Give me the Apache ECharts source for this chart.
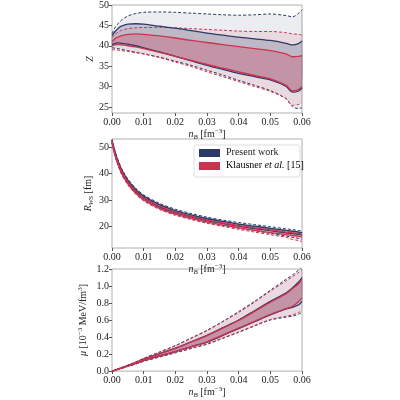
<!DOCTYPE html>
<html><head><meta charset="utf-8">
<script src="https://cdn.jsdelivr.net/npm/echarts@6/dist/echarts.min.js"></script>
<style>html,body{margin:0;padding:0;background:#fff}#c{width:400px;height:400px}</style>
</head><body><div id="c"></div>
<script>
const nB = [0,0.001,0.002,0.003,0.005,0.0075,0.01,0.015,0.02,0.025,0.03,0.035,0.04,0.045,0.05,0.055,0.057,0.059,0.06];
const xTicks = [0,0.01,0.02,0.03,0.04,0.05,0.06];
// Panel 1: Z
const zBlueOutU=[43,44.5,45.5,46.3,47.3,47.9,48.2,48.3,48.2,48.0,47.8,47.6,47.5,47.6,47.8,47.4,47.1,48.0,48.8];
const zBlueOutL=[39.5,39.4,39.3,39.1,38.8,38.4,38.0,37.2,36.2,35.2,34.0,32.8,31.5,30.3,29.0,27.0,25.0,24.6,24.8];
const zBlueInU=[42.5,43.5,44.3,44.8,45.3,45.4,45.3,44.8,44.3,43.7,43.1,42.6,42.1,41.7,41.3,40.6,40.2,40.6,41.2];
const zBlueInL=[40.3,40.6,40.7,40.6,40.4,40.0,39.5,38.5,37.4,36.3,35.2,34.2,33.2,32.4,31.6,30.0,28.6,28.9,29.6];
const zRedInU=[41.0,41.8,42.2,42.5,42.8,42.9,42.8,42.4,41.9,41.3,40.8,40.3,39.8,39.3,38.8,38.0,37.3,37.4,37.6];
const zRedInL=[40.0,40.2,40.3,40.2,40.0,39.7,39.3,38.4,37.4,36.4,35.4,34.5,33.6,32.7,31.9,30.3,28.9,29.3,30.0];
const zRedOutU=[42.0,42.8,43.4,43.8,44.2,44.4,44.5,44.5,44.4,44.2,44.0,43.8,43.6,43.5,43.5,43.2,42.9,42.8,42.6];
const zRedOutL=[39.0,39.0,38.9,38.8,38.6,38.3,38.0,37.1,36.0,34.9,33.6,32.4,31.2,30.0,28.8,27.0,25.4,25.6,26.2];
const zTicks=[25,30,35,40,45,50];
// Panel 2: R_WS
const rRedInU=[52.3,47.4,43.9,40.9,36.9,33.4,30.9,27.7,25.5,23.9,22.5,21.4,20.4,19.6,18.8,18.0,17.7,17.4,17.2];
const rRedInL=[51.7,46.6,43.1,40.1,36.1,32.6,30.1,26.9,24.7,23.1,21.7,20.6,19.6,18.6,17.8,17.0,16.7,16.4,16.2];
const rRedOutU=[52.6,47.8,44.3,41.3,37.3,33.8,31.3,28.1,25.9,24.3,22.9,21.8,20.9,20.1,19.3,18.5,18.2,17.9,17.7];
const rRedOutL=[51.4,46.2,42.7,39.7,35.7,32.2,29.7,26.5,24.3,22.7,21.3,20.1,19.0,18.0,17.0,16.0,15.2,14.8,14.4];
const rBlueInU=[52.6,47.9,44.4,41.5,37.5,34.0,31.5,28.3,26.1,24.5,23.1,22.0,21.0,20.2,19.4,18.6,18.3,18.0,17.8];
const rBlueInL=[52.0,47.1,43.6,40.7,36.7,33.2,30.7,27.5,25.3,23.7,22.3,21.2,20.2,19.3,18.5,17.7,17.4,17.1,16.9];
const rBlueOutU=[53.0,48.4,44.9,42.0,38.0,34.5,32.0,28.8,26.6,25.0,23.6,22.5,21.6,20.8,20.0,19.2,18.9,18.6,18.4];
const rBlueOutL=[51.6,46.6,43.1,40.2,36.2,32.7,30.1,26.9,24.7,23.1,21.7,20.5,19.5,18.5,17.5,16.5,16.0,15.6,15.3];
const rTicks=[20,30,40,50];
// Panel 3: mu
const mBlueOutU=[0,0.013,0.027,0.041,0.07,0.108,0.15,0.225,0.3,0.39,0.48,0.585,0.7,0.82,0.95,1.08,1.13,1.19,1.22];
const mRedOutU=[0,0.013,0.026,0.040,0.069,0.106,0.147,0.222,0.297,0.385,0.475,0.58,0.69,0.81,0.94,1.06,1.11,1.16,1.19];
const mBlueInU=[0,0.012,0.025,0.038,0.065,0.1,0.14,0.205,0.27,0.345,0.42,0.51,0.6,0.71,0.82,0.92,0.98,1.05,1.1];
const mRedInU=[0,0.012,0.025,0.038,0.065,0.1,0.139,0.203,0.268,0.342,0.418,0.505,0.595,0.7,0.81,0.91,0.97,1.03,1.08];
const mBlueInL=[0,0.011,0.023,0.035,0.06,0.09,0.125,0.178,0.23,0.285,0.34,0.42,0.5,0.58,0.66,0.73,0.75,0.78,0.82];
const mRedInL=[0,0.011,0.023,0.035,0.06,0.09,0.125,0.18,0.232,0.288,0.345,0.425,0.505,0.585,0.665,0.735,0.76,0.82,0.86];
const mBlueOutL=[0,0.01,0.021,0.032,0.055,0.083,0.115,0.165,0.215,0.265,0.315,0.385,0.455,0.53,0.6,0.635,0.645,0.67,0.69];
const mRedOutL=[0,0.01,0.021,0.032,0.055,0.083,0.115,0.166,0.217,0.268,0.32,0.39,0.46,0.535,0.605,0.645,0.66,0.69,0.72];
const mTicks=[0,0.2,0.4,0.6,0.8,1.0,1.2];

const BLUE='#2b3a67', RED='#cc3350';
const FONT='Liberation Serif';
const series=[];
function band(g, lo, hi, fill){
  series.push({type:'custom',xAxisIndex:g,yAxisIndex:g,silent:true,z:2,
    data:[[0,0]],encode:{x:0,y:1},
    renderItem:function(params,api){
      const pts=[];
      for(let i=0;i<nB.length;i++) pts.push(api.coord([nB[i],hi[i]]));
      for(let i=nB.length-1;i>=0;i--) pts.push(api.coord([nB[i],lo[i]]));
      return {type:'polygon',shape:{points:pts,smooth:0.3},style:{fill:fill}};
    }});
}
function line(g, arr, color, dashed){
  series.push({type:'line',xAxisIndex:g,yAxisIndex:g,symbol:'none',silent:true,z:5,smooth:0.3,
    lineStyle:{color:color,width:dashed?1:1.3,type:dashed?[3,2]:'solid'},data:nB.map((x,i)=>[x,arr[i]])});
}
function panel(g, bOU,bOL,bIU,bIL,rOU,rOL,rIU,rIL){
  band(g,bOL,bOU,'rgba(43,58,103,0.09)');
  band(g,rOL,rOU,'rgba(204,51,80,0.10)');
  band(g,bIL,bIU,'rgba(43,58,103,0.22)');
  band(g,rIL,rIU,'rgba(204,51,80,0.28)');
  [bOU,bOL].forEach(a=>line(g,a,BLUE,true));
  [rOU,rOL].forEach(a=>line(g,a,RED,true));
  [bIU,bIL].forEach(a=>line(g,a,BLUE,false));
  [rIU,rIL].forEach(a=>line(g,a,RED,false));
}
panel(0,zBlueOutU,zBlueOutL,zBlueInU,zBlueInL,zRedOutU,zRedOutL,zRedInU,zRedInL);
panel(1,rBlueOutU,rBlueOutL,rBlueInU,rBlueInL,rRedOutU,rRedOutL,rRedInU,rRedInL);
panel(2,mBlueOutU,mBlueOutL,mBlueInU,mBlueInL,mRedOutU,mRedOutL,mRedInU,mRedInL);

const grids=[{top:3,height:110},{top:139,height:109},{top:269,height:112}].map(g=>({left:112,width:190,top:g.top,height:g.height,show:true,borderColor:'#b0b0b0',borderWidth:1,backgroundColor:'transparent'}));
const rich={i:{fontFamily:FONT,fontStyle:'italic',fontSize:10,color:'#222'},s:{fontFamily:FONT,fontStyle:'italic',fontSize:7,color:'#222',verticalAlign:'bottom',padding:[6,0,0,0]},n:{fontFamily:FONT,fontSize:10,color:'#222'},p:{fontFamily:FONT,fontSize:7,color:'#222',padding:[0,0,6,0]}};
function xAxis(g){return {gridIndex:g,type:'value',min:0,max:0.06,
  axisLine:{show:false},axisTick:{show:true,length:3,lineStyle:{color:'#555'},customValues:xTicks},
  splitLine:{show:false},
  axisLabel:{customValues:xTicks,formatter:v=>v.toFixed(2),fontFamily:FONT,fontSize:10,color:'#222',margin:4},
  name:'{i|n}{s|B}{n| [fm}{p|−3}{n|]}',nameLocation:'middle',nameGap:14,nameTextStyle:{rich:rich}};}
function yAxis(g,min,max,ticks,name,gap,fmt){return {gridIndex:g,type:'value',min:min,max:max,
  axisLine:{show:false},axisTick:{show:true,length:3,lineStyle:{color:'#555'},customValues:ticks},
  splitLine:{show:false},
  axisLabel:{customValues:ticks,formatter:fmt||(v=>String(v)),fontFamily:FONT,fontSize:10,color:'#222',margin:3},
  name:name,nameLocation:'middle',nameGap:gap,nameRotate:90,nameTextStyle:{rich:rich}};}

const option={animation:false,
  grid:grids,
  xAxis:[xAxis(0),xAxis(1),xAxis(2)],
  yAxis:[yAxis(0,23.5,50,zTicks,'{i|Z}',17),
         yAxis(1,12,53,rTicks,'{i|R}{s|WS}{n| [fm]}',17),
         yAxis(2,0,1.2,mTicks,'{i|μ}{n| [10}{p|−3}{n| MeV/fm}{p|3}{n|]}',22,v=>v.toFixed(1))],
  series:series,
  graphic:[
    {type:'rect',shape:{x:194,y:145,width:106,height:32,r:2},style:{fill:'#fff',stroke:'#ddd',lineWidth:1},z:10},
    {type:'rect',shape:{x:199,y:149,width:21,height:8},style:{fill:BLUE},z:11},
    {type:'rect',shape:{x:199,y:162,width:21,height:8},style:{fill:RED},z:11},
    {type:'text',x:226,y:147,style:{text:'Present work',font:'10px "Liberation Serif"',fill:'#222'},z:11},
    {type:'text',x:226,y:160,style:{text:'{n|Klausner }{i|et al.}{n| [15]}',rich:rich},z:11}
  ]
};
echarts.init(document.getElementById('c')).setOption(option);
</script></body></html>
